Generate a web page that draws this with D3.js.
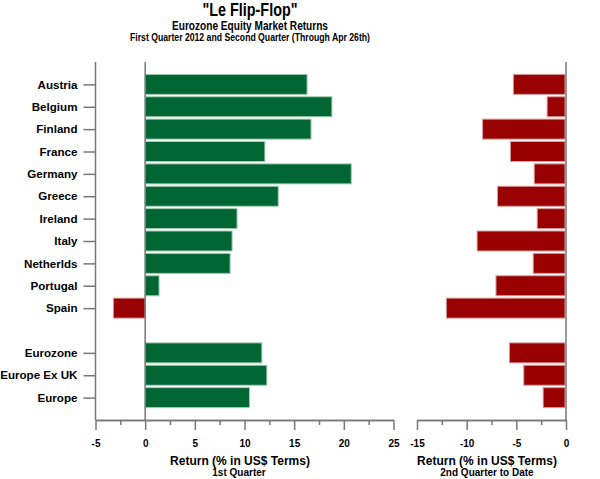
<!DOCTYPE html>
<html>
<head>
<meta charset="utf-8">
<script src="https://cdn.jsdelivr.net/npm/d3@7"></script>
<style>
  body { margin: 0; background: #fff; }
  text { font-family: "Liberation Sans", Arial, sans-serif; font-weight: bold; fill: #000; }
</style>
</head>
<body>
<script>
// rows, with an empty slot between countries and aggregates
var categories = ["Austria", "Belgium", "Finland", "France", "Germany", "Greece", "Ireland",
  "Italy", "Netherlds", "Portugal", "Spain", "", "Eurozone", "Europe Ex UK", "Europe"];
var q1 = [16.3, 18.8, 16.7, 12.05, 20.75, 13.4, 9.25, 8.75, 8.55, 1.4, -3.2, null, 11.75, 12.25, 10.5];
var q2 = [-5.3, -1.9, -8.4, -5.6, -3.2, -6.9, -2.9, -8.95, -3.3, -7.05, -12.05, null, -5.7, -4.25, -2.3];
var q1Ticks = [-5, 0, 5, 10, 15, 20, 25];
var q2Ticks = [-15, -10, -5, 0];

var width = 600, height = 479;
var green = "#006633", red = "#990000", axisCol = "#777";

var svg = d3.select("body").append("svg")
  .attr("width", width).attr("height", height);

var rows = categories.map(function(c, i){ return {key: "r" + i, name: c, q1: q1[i], q2: q2[i]}; });

var y = d3.scalePoint()
  .domain(rows.map(function(d){ return d.key; }))
  .range([62, 420])
  .padding(1);
var barH = 20;

var x1 = d3.scaleLinear().domain([-5, 25]).range([95.5, 393.5]);
var x2 = d3.scaleLinear().domain([-15, 0]).range([417, 566]);

// titles
function title(txt, yy, size, len) {
  svg.append("text").attr("x", 250).attr("y", yy).attr("text-anchor", "middle")
    .attr("textLength", len).attr("lengthAdjust", "spacingAndGlyphs")
    .style("font-size", size + "px").text(txt);
}
title("\"Le Flip-Flop\"", 15.5, 18, 95);
title("Eurozone Equity Market Returns", 29.5, 12, 156);
title("First Quarter 2012 and Second Quarter (Through Apr 26th)", 41, 10, 240);

// bars, 1st quarter
svg.append("g").selectAll("rect")
  .data(rows.filter(function(d){ return d.q1 !== null; }))
  .enter().append("rect")
  .attr("x", function(d){ return x1(Math.min(0, d.q1)); })
  .attr("y", function(d){ return y(d.key) - barH / 2; })
  .attr("width", function(d){ return Math.abs(x1(d.q1) - x1(0)); })
  .attr("height", barH)
  .attr("fill", function(d){ return d.q1 < 0 ? red : green; })
  .attr("stroke", function(d){ return d.q1 < 0 ? "#d9a0a0" : "#a7cbb4"; })
  .attr("stroke-width", 1);

// bars, 2nd quarter
svg.append("g").selectAll("rect")
  .data(rows.filter(function(d){ return d.q2 !== null; }))
  .enter().append("rect")
  .attr("x", function(d){ return x2(Math.min(0, d.q2)); })
  .attr("y", function(d){ return y(d.key) - barH / 2; })
  .attr("width", function(d){ return Math.abs(x2(d.q2) - x2(0)) - 1; })
  .attr("height", barH)
  .attr("fill", function(d){ return d.q2 < 0 ? red : green; })
  .attr("stroke", function(d){ return d.q2 < 0 ? "#d9a0a0" : "#a7cbb4"; })
  .attr("stroke-width", 1);

// zero line, left panel
svg.append("line")
  .attr("x1", x1(0)).attr("x2", x1(0)).attr("y1", 62).attr("y2", 420)
  .attr("stroke", axisCol).attr("stroke-width", 1.5);

// category axis
var yAxis = svg.append("g")
  .attr("transform", "translate(95.5,0)")
  .call(d3.axisLeft(y).tickSize(12).tickPadding(6)
    .tickFormat(function(k){ return rows.find(function(d){ return d.key === k; }).name; }));
yAxis.select(".domain").remove();
yAxis.selectAll(".tick").filter(function(k){ return rows.find(function(d){ return d.key === k; }).name === ""; }).remove();
yAxis.selectAll(".tick line").attr("stroke", axisCol).attr("stroke-width", 1.5);
yAxis.selectAll(".tick text").style("font-size", "11.6px");
svg.append("line").attr("x1", 95.5).attr("x2", 95.5).attr("y1", 62).attr("y2", 420)
  .attr("stroke", axisCol).attr("stroke-width", 1.5);

// right vertical axis line
svg.append("line").attr("x1", 566).attr("x2", 566).attr("y1", 62).attr("y2", 420)
  .attr("stroke", axisCol).attr("stroke-width", 1.5);

function bottomAxis(scale, ticks) {
  var g = svg.append("g").attr("transform", "translate(0,420)");
  var minor = d3.range(ticks[0] + 2.5, ticks[ticks.length - 1], 5);
  g.call(d3.axisBottom(scale).tickValues(minor).tickSize(5).tickSizeOuter(0).tickFormat(""));
  g.call(function(s){
    s.append("g").call(d3.axisBottom(scale).tickValues(ticks).tickSize(10).tickSizeOuter(0).tickPadding(10)
      .tickFormat(function(d){ return String(d); }));
  });
  g.selectAll(".domain").attr("stroke", axisCol).attr("stroke-width", 1.5);
  g.selectAll(".tick line").attr("stroke", axisCol).attr("stroke-width", 1.5);
  g.selectAll(".tick text").style("font-size", "10px").attr("fill", "#000");
  return g;
}
bottomAxis(x1, q1Ticks);
bottomAxis(x2, q2Ticks);

// axis titles
svg.append("text").attr("x", 240).attr("y", 465).attr("text-anchor", "middle")
  .style("font-size", "12px").text("Return (% in US$ Terms)");
svg.append("text").attr("x", 239).attr("y", 475.5).attr("text-anchor", "middle")
  .style("font-size", "10px").text("1st Quarter");
svg.append("text").attr("x", 487).attr("y", 465).attr("text-anchor", "middle")
  .style("font-size", "12px").text("Return (% in US$ Terms)");
svg.append("text").attr("x", 487).attr("y", 475.5).attr("text-anchor", "middle")
  .style("font-size", "10px").text("2nd Quarter to Date");
</script>
</body>
</html>
